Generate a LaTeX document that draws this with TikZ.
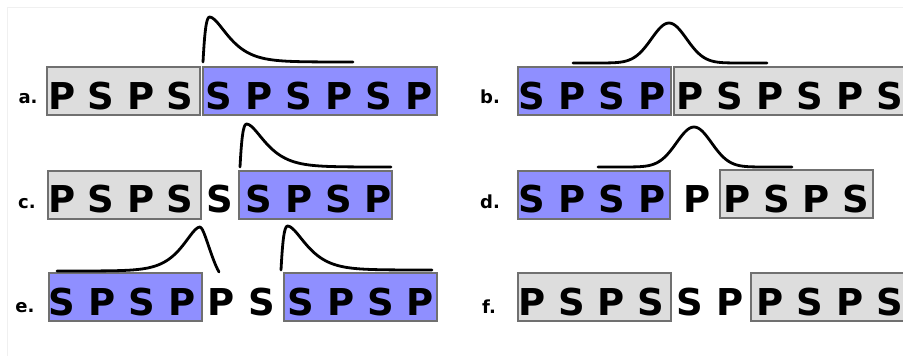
\documentclass[tikz,border=0pt]{standalone}
\usepackage{fontspec}
\setmainfont{DejaVu Sans}
\definecolor{boxgrey}{RGB}{221,221,221}
\definecolor{boxblue}{RGB}{143,143,255}
\definecolor{edgegrey}{RGB}{112,112,112}
\definecolor{framegrey}{RGB}{240,240,240}
\tikzset{
  box/.style={draw=edgegrey, line width=2pt, inner sep=0pt, outer sep=0pt, minimum height=48pt},
  gbox/.style={box, fill=boxgrey},
  bbox/.style={box, fill=boxblue},
  let/.style={font=\fontsize{37}{40}\selectfont\bfseries, inner sep=0pt, anchor=base},
  lab/.style={font=\fontsize{18}{20}\selectfont\bfseries, inner sep=0pt, anchor=base},
  curve/.style={line width=2.8pt, line cap=round, line join=round},
}
\begin{document}
\begin{tikzpicture}[x=1pt, y=-1pt]
\clip (0,0) rectangle (903,356);
\fill[white] (0,0) rectangle (903,356);
\draw[framegrey, line width=1pt] (7,7) rectangle (920,370);

% ---------- row a ----------
\node[lab] (la) at (28,103) {a.};
\node[gbox, minimum width=153pt] (a1) at (123.5,91) {};
\node[bbox, minimum width=234pt] (a2) at (320,91) {};
\foreach \l [count=\i] in {P,S,P,S} \node[let] (aa\i) at ({62+39.3*(\i-1)},109) {\l};
\foreach \l [count=\i] in {S,P,S,P,S,P} \node[let] (ab\i) at ({219+40*(\i-1)},109) {\l};
\draw[curve] (203,62) .. controls (204.5,35) and (206,17) .. (209.5,17)
  -- plot[domain=209.5:353, samples=60, smooth] (\x,{62-45*(1+(\x-209.5)/13)*exp(-(\x-209.5)/13)});

% ---------- row b ----------
\node[lab] (lb) at (490,103) {b.};
\node[bbox, minimum width=153pt] (b1) at (594.5,91) {};
\node[gbox, minimum width=240pt] (b2) at (794,91) {};
\foreach \l [count=\i] in {S,P,S,P} \node[let] (ba\i) at ({532+40*(\i-1)},109) {\l};
\foreach \l [count=\i] in {P,S,P,S,P,S} \node[let] (bb\i) at ({690+40*(\i-1)},109) {\l};
\draw[curve] plot[domain=573:767, samples=100, smooth] (\x,{63-40*exp(-((\x-669)/17.5)^2/2)});

% ---------- row c ----------
\node[lab] (lc) at (27,208) {c.};
\node[gbox, minimum width=153pt] (c1) at (124.5,194.5) {};
\node[bbox, minimum width=153pt] (c2) at (315.5,194.5) {};
\foreach \l [count=\i] in {P,S,P,S} \node[let] (ca\i) at ({62+39.3*(\i-1)},212) {\l};
\node[let] (cm) at (220,212) {S};
\foreach \l [count=\i] in {S,P,S,P} \node[let] (cb\i) at ({259+39.7*(\i-1)},212) {\l};
\draw[curve] (240,167) .. controls (241.5,140) and (243,124) .. (246.5,124)
  -- plot[domain=246.5:391, samples=60, smooth] (\x,{167-43*(1+(\x-246.5)/13)*exp(-(\x-246.5)/13)});

% ---------- row d ----------
\node[lab] (ld) at (490,208) {d.};
\node[bbox, minimum width=152pt] (d1) at (594,194.5) {};
\node[gbox, minimum width=153pt] (d2) at (796.5,193.5) {};
\foreach \l [count=\i] in {S,P,S,P} \node[let] (da\i) at ({532+40*(\i-1)},212) {\l};
\node[let] (dm) at (697,212) {P};
\foreach \l [count=\i] in {P,S,P,S} \node[let] (db\i) at ({737+39.7*(\i-1)},212) {\l};
\draw[curve] plot[domain=598:792, samples=100, smooth] (\x,{167-40*exp(-((\x-694)/17.5)^2/2)});

% ---------- row e ----------
\node[lab] (le) at (25,312) {e.};
\node[bbox, minimum width=153pt] (e1) at (125.5,297) {};
\node[bbox, minimum width=153pt] (e2) at (360.5,297) {};
\foreach \l [count=\i] in {S,P,S,P} \node[let] (ea\i) at ({62+40*(\i-1)},315) {\l};
\node[let] (em1) at (221,315) {P};
\node[let] (em2) at (262,315) {S};
\foreach \l [count=\i] in {S,P,S,P} \node[let] (eb\i) at ({301+39.7*(\i-1)},315) {\l};
\draw[curve] plot[domain=57:200, samples=60, smooth] (\x,{271-44*(1+(200-\x)/12)*exp(-(200-\x)/12)})
  .. controls (204,227) and (211,258) .. (219,272);
\draw[curve] (281,270) .. controls (282.5,243) and (284,226) .. (287.5,226)
  -- plot[domain=287.5:432, samples=60, smooth] (\x,{270-44*(1+(\x-287.5)/13)*exp(-(\x-287.5)/13)});

% ---------- row f ----------
\node[lab] (lf) at (489,313) {f.};
\node[gbox, minimum width=153pt] (f1) at (594.5,297) {};
\node[gbox, minimum width=160pt] (f2) at (831,297) {};
\foreach \l [count=\i] in {P,S,P,S} \node[let] (fa\i) at ({532+39.5*(\i-1)},315) {\l};
\node[let] (fm1) at (690,315) {S};
\node[let] (fm2) at (730,315) {P};
\foreach \l [count=\i] in {P,S,P,S} \node[let] (fb\i) at ({770+40*(\i-1)},315) {\l};
\end{tikzpicture}
\end{document}
